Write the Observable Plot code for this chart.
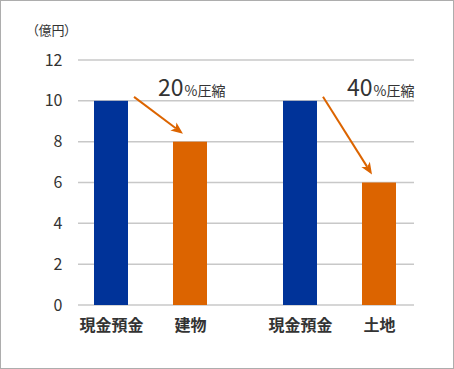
<!DOCTYPE html>
<html><head><meta charset="utf-8">
<script src="https://cdn.jsdelivr.net/npm/d3@7"></script>
<script src="https://cdn.jsdelivr.net/npm/@observablehq/plot@0.6"></script>
<style>
body{margin:0;background:#fff;}
#wrap{position:relative;width:454px;height:369px;overflow:hidden;}
#frame{position:absolute;left:0;top:0;width:454px;height:369px;box-sizing:border-box;border:1px solid #adadad;pointer-events:none;}
#unit{position:absolute;left:32px;top:23px;font-family:"Noto Sans CJK JP";font-size:13px;line-height:1;color:#333;font-feature-settings:"palt";}
#wrap svg{position:absolute;left:0;top:0;}
</style></head><body>
<div id="wrap"><div id="unit">（億円）</div><div id="frame"></div></div>
<script>
const groups = ["g1", "g2"];
const cashLabel = "現金預金";
const assetLabels = ["建物", "土地"];
const cashValues = [10, 10];
const assetValues = [8, 6];
const reductions = ["20", "40"];
const reductionSuffix = "%圧縮";
const yTicks = [0, 2, 4, 6, 8, 10, 12];

const BLUE = "#003399";
const ORANGE = "#dc6400";

const pairs = groups.map((g, i) => ({group: g, cash: cashValues[i], asset: assetValues[i], pct: reductions[i], suffix: reductionSuffix}));
const bars = groups.flatMap((g, i) => [
  {group: g, kind: "cash", name: cashLabel, value: cashValues[i]},
  {group: g, kind: "asset", name: assetLabels[i], value: assetValues[i]}
]);

const chart = Plot.plot({
  width: 454,
  height: 369,
  marginLeft: 77,
  marginRight: 39,
  marginTop: 60,
  marginBottom: 64,
  style: {fontFamily: "Noto Sans CJK JP", fontSize: "16px", color: "#333", background: "transparent"},
  fx: {domain: groups, paddingInner: 0.221, paddingOuter: 0, axis: null, label: null},
  x: {domain: ["cash", "asset"], paddingInner: 0.575, paddingOuter: 0.2125, align: 0.47, axis: null, label: null},
  y: {domain: [0, 12], ticks: yTicks, tickSize: 0, tickPadding: 16, label: null, tickFormat: d => String(d)},
  color: {domain: ["cash", "asset"], range: [BLUE, ORANGE]},
  marks: [
    Plot.frame({
      facet: "super", stroke: "none",
      render(index, scales, values, dimensions) {
        const {y} = scales;
        const {width, marginLeft, marginRight} = dimensions;
        const g = d3.create("svg:g");
        for (const t of yTicks) {
          g.append("line")
            .attr("x1", marginLeft).attr("x2", width - marginRight)
            .attr("y1", y(t)).attr("y2", y(t))
            .attr("stroke", "#c8c8c8").attr("stroke-width", 1.5);
        }
        return g.node();
      }
    }),
    Plot.barY(bars, {fx: "group", x: "kind", y: "value", fill: "kind"}),
    Plot.arrow(pairs, {
      fx: "group", x1: () => "cash", x2: () => "asset", y1: "cash", y2: "asset",
      stroke: ORANGE, strokeWidth: 2,
      render(index, scales, values, dimensions, context) {
        const {x, y} = scales;
        const bw = x.bandwidth();
        const g = d3.create("svg:g");
        for (const i of index) {
          const x1 = x("cash") + bw + 6, y1 = y(pairs[i].cash) - 4;
          const x2 = x("asset") + 10, y2 = y(pairs[i].asset) - 8;
          const dx = x2 - x1, dy = y2 - y1, len = Math.hypot(dx, dy);
          const ux = dx / len, uy = dy / len, px = -uy, py = ux;
          const L = 12, W = 5, N = 3;
          const bx = x2 - ux * L, by = y2 - uy * L;
          const nx = x2 - ux * (L - N), ny = y2 - uy * (L - N);
          g.append("line").attr("x1", x1).attr("y1", y1).attr("x2", nx).attr("y2", ny)
            .attr("stroke", ORANGE).attr("stroke-width", 2);
          g.append("path")
            .attr("d", `M${x2},${y2}L${bx + px * W},${by + py * W}L${nx},${ny}L${bx - px * W},${by - py * W}Z`)
            .attr("fill", ORANGE);
        }
        return g.node();
      }
    }),
    Plot.text(pairs, {fx: "group", x: () => "asset", y: "cash", text: "pct", textAnchor: "end", lineAnchor: "bottom", dx: -7, dy: -5, fontSize: 23, fill: "#333"}),
    Plot.text(pairs, {fx: "group", x: () => "asset", y: "cash", text: "suffix", textAnchor: "start", lineAnchor: "bottom", dx: -6, dy: -5, fontSize: 14, fill: "#333"}),
    Plot.text(bars, {fx: "group", x: "kind", text: "name", frameAnchor: "bottom", dy: 25, fontSize: 16, fontWeight: "bold", fill: "#333"})
  ]
});
document.getElementById("wrap").insertBefore(chart, document.getElementById("unit"));
</script>
</body></html>
